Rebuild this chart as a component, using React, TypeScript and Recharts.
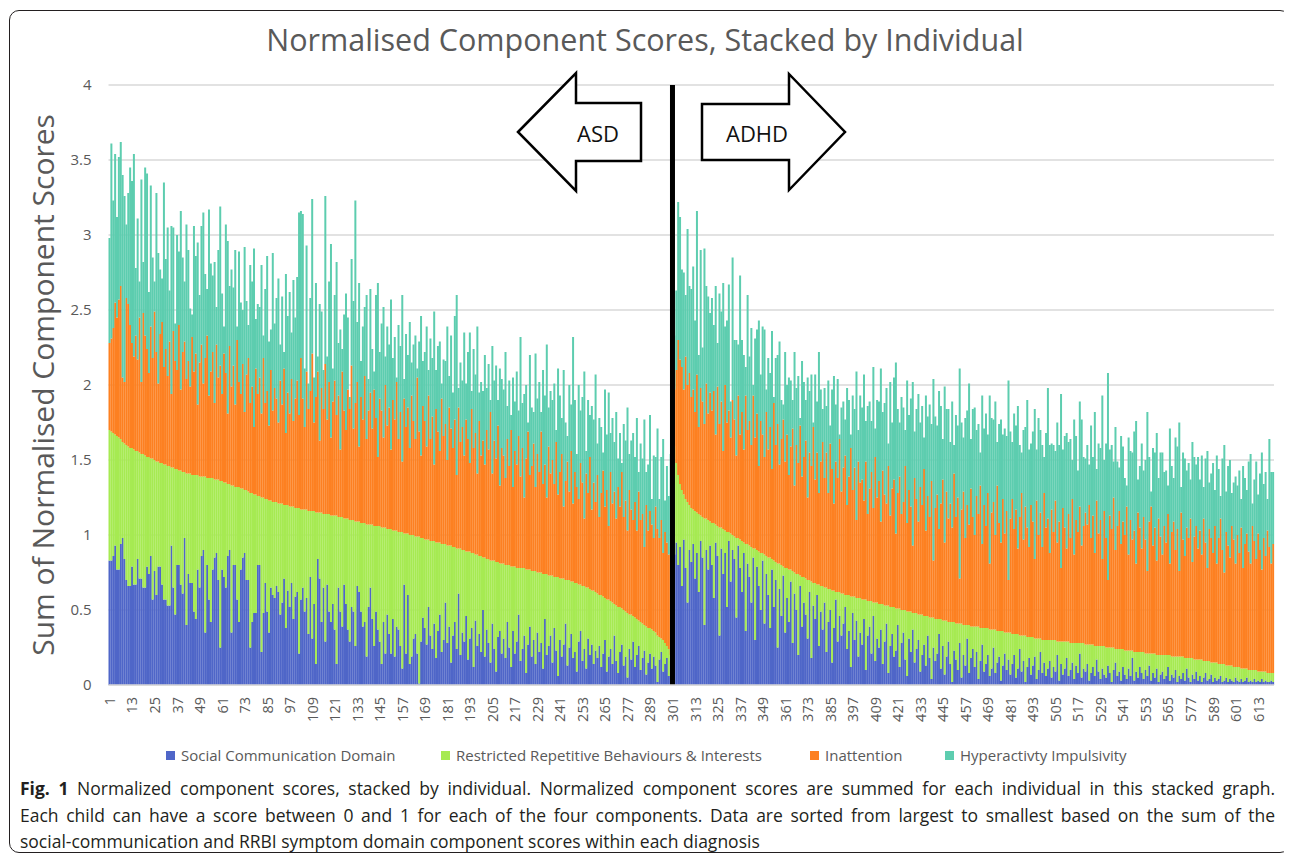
import { BarChart, Bar, XAxis, YAxis, CartesianGrid, Legend, ReferenceLine } from "recharts";

// ASD group (individuals 1-300), sorted by social + RRBI sum
const asdCore = [
  1.70, 1.69, 1.68, 1.67, 1.66, 1.65, 1.64, 1.62, 1.61, 1.60,
  1.59, 1.58, 1.58, 1.57, 1.56, 1.56, 1.55, 1.54, 1.54, 1.53,
  1.52, 1.52, 1.51, 1.51, 1.50, 1.49, 1.49, 1.48, 1.48, 1.47,
  1.47, 1.46, 1.46, 1.45, 1.45, 1.44, 1.44, 1.43, 1.43, 1.42,
  1.42, 1.41, 1.41, 1.41, 1.40, 1.40, 1.40, 1.40, 1.39, 1.39,
  1.39, 1.39, 1.38, 1.38, 1.38, 1.38, 1.37, 1.37, 1.37, 1.36,
  1.36, 1.35, 1.35, 1.34, 1.34, 1.33, 1.33, 1.32, 1.32, 1.32,
  1.31, 1.31, 1.30, 1.30, 1.29, 1.28, 1.28, 1.27, 1.27, 1.26,
  1.26, 1.25, 1.25, 1.24, 1.24, 1.23, 1.23, 1.22, 1.22, 1.22,
  1.21, 1.21, 1.21, 1.20, 1.20, 1.20, 1.19, 1.19, 1.19, 1.18,
  1.18, 1.18, 1.17, 1.17, 1.17, 1.17, 1.16, 1.16, 1.16, 1.16,
  1.15, 1.15, 1.15, 1.15, 1.14, 1.14, 1.14, 1.14, 1.13, 1.13,
  1.13, 1.13, 1.12, 1.12, 1.12, 1.11, 1.11, 1.11, 1.10, 1.10,
  1.10, 1.09, 1.09, 1.09, 1.08, 1.08, 1.08, 1.07, 1.07, 1.07,
  1.07, 1.06, 1.06, 1.06, 1.06, 1.05, 1.05, 1.05, 1.04, 1.04,
  1.04, 1.03, 1.03, 1.03, 1.02, 1.02, 1.02, 1.01, 1.01, 1.01,
  1.00, 1.00, 1.00, .99, .99, .99, .98, .98, .97, .97,
  .97, .96, .96, .96, .95, .95, .95, .94, .94, .94,
  .93, .93, .93, .92, .92, .91, .91, .91, .90, .90,
  .89, .89, .89, .88, .88, .87, .87, .86, .86, .85,
  .85, .84, .84, .83, .83, .83, .82, .82, .81, .81,
  .81, .80, .80, .80, .79, .79, .79, .78, .78, .78,
  .78, .78, .77, .77, .77, .76, .76, .76, .75, .75,
  .75, .74, .74, .74, .73, .73, .73, .72, .72, .72,
  .71, .71, .71, .70, .70, .70, .69, .69, .68, .68,
  .67, .67, .66, .66, .65, .65, .64, .63, .63, .62,
  .61, .60, .60, .59, .58, .57, .57, .56, .55, .54,
  .53, .52, .52, .51, .50, .49, .48, .47, .47, .46,
  .45, .44, .43, .42, .41, .40, .39, .38, .38, .37,
  .36, .35, .33, .32, .31, .30, .28, .26, .24, .20,
];

const asdSocial = [
  .83, .83, .86, .93, .77, .77, .94, .98, .84, .70,
  .66, .66, .79, .67, .67, .84, .71, .71, .65, .65,
  .79, .74, .86, .57, .76, .60, .79, .79, .67, .57,
  .57, .53, .53, .93, .65, .47, .80, .80, .67, .61,
  .98, .40, .74, .68, .68, .49, .44, .77, .65, .86,
  .90, .35, .80, .57, .42, .77, .85, .88, .70, .25,
  .77, .72, .65, .86, .90, .35, .80, .80, .57, .42,
  .77, .85, .88, .70, .70, .25, .42, .48, .48, .80,
  .80, .22, .48, .68, .49, .35, .65, .60, .58, .66,
  .62, .47, .55, .71, .38, .63, .52, .68, .44, .59,
  .62, .21, .57, .65, .49, .58, .34, .72, .31, .54,
  .14, .84, .71, .42, .65, .29, .67, .49, .42, .54,
  .37, .14, .65, .49, .39, .67, .54, .37, .29, .52,
  .49, .26, .66, .62, .49, .39, .42, .19, .52, .65,
  .44, .26, .49, .37, .29, .14, .42, .21, .47, .34,
  .21, .44, .19, .39, .37, .26, .11, .67, .21, .60,
  .14, .19, .31, .34, .21, .01, .29, .45, .38, .27,
  .52, .33, .24, .41, .18, .36, .47, .22, .30, .55,
  .28, .39, .15, .33, .42, .24, .61, .20, .35, .29,
  .46, .17, .31, .38, .12, .43, .26, .34, .22, .50,
  .19, .37, .28, .15, .41, .24, .09, .32, .36, .21,
  .31, .18, .42, .25, .12, .36, .21, .29, .47, .16,
  .24, .33, .08, .27, .39, .19, .30, .14, .35, .22,
  .28, .11, .44, .20, .26, .33, .15, .38, .23, .06,
  .30, .19, .27, .41, .13, .25, .34, .18, .22, .09,
  .29, .36, .16, .24, .11, .31, .20, .27, .14, .23,
  .18, .26, .12, .21, .30, .09, .19, .24, .14, .33,
  .16, .08, .22, .27, .13, .19, .05, .24, .17, .29,
  .12, .20, .26, .10, .18, .23, .07, .15, .21, .11,
  .19, .13, .02, .17, .22, .09, .14, .18, .06, .16,
];

const asdInattention = [
  .58, .62, .70, .88, .79, .92, 1.02, .43, .41, .98,
  .95, .82, .70, .62, .77, .61, .90, .48, .94, .80,
  .72, .56, .88, .67, .99, .73, .52, .86, .94, .65,
  .77, .60, .83, .49, .91, .72, .66, .97, .54, .80,
  .87, .63, .75, .58, .92, .69, .81, .47, .76, .88,
  .62, .79, .95, .55, .71, .84, .51, .90, .68, .77,
  .58, .86, .73, .47, .92, .66, .80, .55, .98, .70,
  .63, .83, .52, .77, .89, .60, .71, .45, .84, .68,
  .79, .56, .93, .64, .72, .50, .87, .61, .76, .69,
  .54, .82, .66, .91, .48, .75, .62, .85, .57, .73,
  .85, .62, 1.01, .74, .55, .92, .68, .80, 1.05, .59,
  .77, .94, .48, .83, .70, 1.00, .63, .88, .52, .76,
  .90, .67, .81, .45, .97, .72, .59, .86, .74, 1.03,
  .61, .79, .93, .50, .84, .69, .98, .57, .76, .88,
  .64, .91, .72, .46, .85, .78, .60, .95, .69, .81,
  .53, .87, .74, .99, .62, .80, .47, .90, .71, .84,
  .58, .93, .76, .65, 1.06, .70, .55, .88, .79, .62,
  .96, .68, .83, .51, .89, .74, .61, .97, .72, .80,
  .57, .92, .78, .66, .85, .49, .94, .71, .82, .63,
  .88, .75, .59, .96, .70, .81, .54, .90, .67, .78,
  .62, .86, .73, .99, .58, .80, .69, .91, .52, .77,
  .72, .58, .84, .66, .91, .53, .77, .69, .88, .61,
  .80, .47, .74, .92, .63, .70, .85, .56, .79, .67,
  .94, .60, .73, .51, .86, .68, .77, .62, .90, .55,
  .71, .83, .48, .66, .79, .59, .87, .52, .74, .64,
  .57, .81, .69, .45, .76, .63, .88, .54, .72, .60,
  .79, .52, .68, .84, .61, .73, .49, .86, .66, .75,
  .58, .80, .67, .91, .62, .74, .55, .83, .70, .64,
  .77, .59, .86, .68, .73, .52, .81, .65, .78, .70,
  .62, .84, .71, .66, .79, .58, .74, .69, .63, .72,
];

const asdHyperactivity = [
  .70, 1.30, .85, .99, .67, .95, .96, 1.35, 1.24, .49,
  .74, 1.05, 1.08, 1.35, .45, .94, .24, 1.35, .34, 1.12,
  1.17, .54, .94, .67, .20, 1.06, .87, .43, .29, 1.23,
  .60, .99, .34, 1.12, .69, .25, .90, .49, 1.19, .63,
  .40, 1.03, .74, .52, .15, .97, .65, 1.08, .45, .79,
  1.14, .56, .31, 1.24, .72, .51, .94, .25, .85, 1.06,
  .67, .18, .99, 1.15, .40, .78, .52, 1.03, .09, .87,
  .61, .36, 1.10, .49, .22, .92, .70, 1.19, .33, .60,
  .47, .99, .15, .76, .90, .56, .27, 1.05, .43, .67,
  .96, .24, .72, .11, 1.06, .51, .81, .31, .94, .54,
  .69, 1.35, .98, 1.23, .39, .84, .17, .62, 1.03, .30,
  .76, .10, .91, .51, .26, 1.12, .42, .67, 1.29, .22,
  .57, 1.02, .35, .80, .15, .64, .91, .48, .08, .71,
  .85, 1.35, .40, 1.09, .24, .62, .46, .96, .21, .69,
  .53, .12, .82, 1.16, .31, .58, .87, .19, .66, .42,
  1.00, .28, .55, .03, .76, .44, 1.11, .13, .62, .35,
  .84, .22, .51, .69, .06, .60, .93, .30, .46, .80,
  .17, .67, .39, 1.02, .26, .57, .73, .10, .51, .42,
  .89, .21, .62, .37, .69, 1.20, .13, .53, .31, .82,
  .24, .58, .87, .12, .66, .39, .98, .19, .49, .33,
  .73, .28, .57, .08, .85, .40, .62, .17, .78, .46,
  .44, .84, .22, .57, .10, .73, .33, .62, .17, .93,
  .30, .69, .49, .06, .80, .39, .21, .89, .37, .60,
  .13, .76, .46, 1.02, .26, .55, .40, .67, .08, .84,
  .51, .24, .91, .39, .17, .71, .31, 1.11, .48, .22,
  .76, .35, .57, .98, .15, .62, .28, .69, .42, .85,
  .21, .66, .44, .12, .78, .37, .89, .26, .57, .33,
  .71, .19, .49, .06, .62, .40, .82, .24, .46, .58,
  .30, .75, .13, .51, .37, .85, .22, .44, .64, .17,
  .55, .33, .67, .26, .42, .76, .21, .51, .39, .62,
];

// ADHD group (individuals 302-621)
const adhdCore = [
  1.59, 1.48, 1.40, 1.34, 1.30, 1.27, 1.24, 1.22, 1.20, 1.18,
  1.17, 1.16, 1.15, 1.14, 1.13, 1.12, 1.11, 1.11, 1.10, 1.09,
  1.08, 1.08, 1.07, 1.06, 1.05, 1.05, 1.04, 1.03, 1.02, 1.02,
  1.01, 1.00, .99, .98, .98, .97, .96, .95, .94, .94,
  .93, .92, .91, .91, .90, .89, .88, .88, .87, .86,
  .85, .85, .84, .83, .82, .81, .81, .80, .79, .78,
  .78, .77, .77, .76, .75, .74, .74, .73, .72, .72,
  .71, .70, .70, .69, .68, .68, .67, .67, .66, .66,
  .65, .65, .64, .64, .63, .63, .62, .62, .62, .61,
  .61, .60, .60, .60, .59, .59, .59, .58, .58, .58,
  .57, .57, .57, .56, .56, .56, .55, .55, .55, .54,
  .54, .54, .53, .53, .53, .52, .52, .52, .51, .51,
  .51, .50, .50, .50, .49, .49, .49, .48, .48, .48,
  .47, .47, .47, .46, .46, .46, .45, .45, .45, .44,
  .44, .44, .44, .43, .43, .43, .42, .42, .42, .42,
  .41, .41, .41, .41, .40, .40, .40, .40, .39, .39,
  .39, .39, .39, .38, .38, .38, .38, .38, .37, .37,
  .37, .37, .36, .36, .36, .36, .35, .35, .35, .35,
  .34, .34, .34, .34, .33, .33, .33, .33, .32, .32,
  .32, .32, .31, .31, .31, .31, .30, .30, .30, .30,
  .30, .30, .30, .30, .29, .29, .29, .29, .29, .29,
  .29, .28, .28, .28, .28, .28, .28, .28, .28, .27,
  .27, .27, .27, .27, .26, .26, .26, .26, .26, .26,
  .25, .25, .25, .25, .25, .24, .24, .24, .24, .24,
  .23, .23, .23, .23, .23, .22, .22, .22, .22, .22,
  .22, .21, .21, .21, .21, .21, .21, .20, .20, .20,
  .20, .20, .20, .20, .20, .19, .19, .19, .19, .19,
  .19, .19, .18, .18, .18, .18, .18, .17, .17, .17,
  .17, .17, .16, .16, .16, .16, .15, .15, .15, .15,
  .14, .14, .14, .14, .13, .13, .13, .13, .12, .12,
  .12, .12, .11, .11, .11, .11, .10, .10, .10, .10,
  .10, .09, .09, .09, .09, .09, .08, .08, .08, .08,
];

const adhdSocial = [
  .87, .95, .80, .92, .66, .97, .78, .55, .90, .82,
  .94, .71, .88, .62, .96, .85, .40, .90, .77, .93,
  .80, .58, .95, .86, .33, .91, .74, .88, .52, .96,
  .69, .90, .84, .45, .93, .78, .62, .88, .36, .81,
  .72, .55, .85, .30, .79, .66, .50, .83, .41, .74,
  .60, .38, .77, .52, .70, .25, .64, .46, .73, .35,
  .58, .42, .69, .28, .61, .50, .20, .66, .39, .55,
  .47, .31, .62, .18, .53, .44, .60, .26, .49, .37,
  .55, .22, .42, .50, .15, .38, .57, .29, .46, .33,
  .41, .52, .24, .36, .12, .48, .30, .43, .19, .35,
  .27, .44, .10, .33, .39, .21, .46, .16, .31, .25,
  .37, .14, .29, .41, .08, .26, .34, .19, .23, .40,
  .12, .28, .35, .17, .06, .31, .22, .37, .15, .24,
  .30, .09, .20, .27, .13, .33, .18, .04, .25, .16,
  .21, .34, .11, .26, .07, .19, .29, .14, .02, .23,
  .17, .10, .28, .05, .20, .13, .31, .08, .18, .24,
  .12, .22, .04, .16, .27, .09, .14, .20, .06, .11,
  .25, .08, .15, .19, .03, .13, .21, .10, .17, .07,
  .14, .20, .05, .11, .24, .09, .16, .02, .12, .18,
  .07, .13, .19, .04, .10, .22, .08, .15, .06, .11,
  .16, .05, .12, .09, .20, .03, .14, .07, .11, .18,
  .06, .10, .15, .04, .13, .08, .21, .05, .11, .09,
  .14, .03, .08, .12, .06, .17, .09, .04, .11, .07,
  .05, .13, .08, .02, .10, .15, .06, .09, .03, .12,
  .07, .04, .11, .06, .18, .03, .09, .05, .12, .08,
  .04, .10, .06, .13, .03, .08, .05, .11, .02, .07,
  .09, .04, .06, .12, .03, .07, .05, .10, .02, .06,
  .04, .08, .03, .11, .05, .02, .07, .04, .09, .03,
  .06, .02, .05, .08, .03, .04, .07, .02, .05, .03,
  .04, .06, .02, .03, .05, .02, .04, .03, .02, .05,
  .03, .02, .04, .02, .03, .05, .02, .03, .02, .04,
  .02, .03, .02, .04, .02, .03, .02, .02, .03, .02,
];

const adhdInattention = [
  .38, .62, .90, .83, .82, .70, .95, .78, .88, .74,
  .80, .66, .92, .58, .85, .77, .63, .90, .71, .86,
  .75, .88, .60, .93, .69, .84, .52, .97, .73, .81,
  .64, .90, .78, .55, .95, .70, .86, .62, .99, .76,
  .83, .68, 1.02, .74, .91, .57, .88, .79, .65, .96,
  .72, .87, .60, 1.05, .78, .93, .66, .84, .98, .71,
  .89, .63, .82, .95, .58, .86, .74, 1.00, .67, .80,
  .92, .55, .85, .77, 1.04, .69, .88, .61, .83, .96,
  .73, .90, .64, .97, .81, .58, .87, .76, 1.02, .68,
  .84, .93, .60, .79, .99, .71, .86, .52, .91, .77,
  .80, .66, .92, .58, .75, .86, .63, .97, .70, .82,
  .55, .89, .74, .68, .93, .61, .79, .85, .50, .77,
  .88, .64, .72, .96, .59, .81, .70, .45, .90, .76,
  .62, .85, .73, .98, .57, .80, .67, .91, .38, .74,
  .83, .60, .77, .94, .52, .86, .69, .79, .63, .99,
  .71, .84, .30, .76, .89, .58, .80, .67, .92, .73,
  .61, .87, .75, .95, .56, .82, .68, .90, .44, .78,
  .85, .63, .97, .72, .59, .88, .66, .81, .35, .76,
  .90, .70, .83, .57, .79, .95, .64, .86, .73, .60,
  .88, .77, .53, .92, .69, .84, .62, .98, .75, .81,
  .58, .87, .72, .93, .66, .80, .49, .89, .76, .62,
  .85, .70, .96, .59, .82, .74, .91, .65, .78, .88,
  .80, .93, .71, .86, .62, .97, .75, .84, .58, .90,
  .73, .45, .88, .79, 1.00, .66, .82, .92, .70, .85,
  .77, .96, .64, .87, .74, .81, .59, .93, .83, .69,
  .90, .76, .55, .88, .98, .72, .84, .63, .91, .79,
  .67, .86, .75, .94, .61, .83, .90, .71, .85, .57,
  .96, .78, .68, .87, .80, .93, .64, .82, .89, .74,
  .86, .70, .95, .79, .62, .88, .83, .73, .91, .66,
  .84, .97, .76, .61, .89, .80, .72, .93, .85, .69,
  .88, .76, .94, .67, .83, .90, .79, .71, .96, .86,
  .74, .92, .81, .68, .89, .77, .95, .84, .73, .86,
];

const adhdHyperactivity = [
  .36, .53, .92, .95, .65, .78, .41, 1.04, .58, .72,
  .82, .61, 1.09, .48, .92, .36, 1.17, .65, .78, .53,
  .75, .44, .99, .29, .87, .60, 1.12, .39, .68, .84,
  .24, .95, .53, .77, .34, 1.06, .48, .63, .19, .90,
  .43, .78, .07, .66, .56, .97, .31, .72, .85, .15,
  .61, .36, .92, .04, .58, .46, .82, .26, .10, .73,
  .33, .65, .44, .19, .89, .38, .58, .05, .77, .50,
  .27, .80, .41, .61, .03, .70, .34, .94, .48, .22,
  .60, .31, .75, .12, .53, .85, .38, .66, .03, .56,
  .44, .24, .78, .51, .09, .63, .39, .99, .21, .58,
  .48, .84, .27, .72, .58, .34, .94, .19, .65, .53,
  1.02, .39, .61, .77, .15, .89, .44, .68, 1.14, .56,
  .36, .78, .63, .24, .95, .50, .72, 1.09, .31, .60,
  .85, .43, .66, .21, .90, .53, .75, .38, 1.21, .61,
  .46, .92, .65, .27, 1.04, .55, .73, .41, .84, .19,
  .68, .48, 1.40, .58, .36, .80, .63, .94, .33, .72,
  .85, .44, .60, .22, .99, .51, .75, .39, 1.12, .63,
  .55, .89, .29, .66, .82, .43, .70, .50, 1.33, .58,
  .38, .77, .56, .95, .48, .27, .73, .53, .85, .65,
  .41, .60, 1.00, .34, .78, .55, .68, .24, .63, .87,
  .72, .44, .58, .33, .80, .51, 1.16, .39, .61, .77,
  .48, .66, .26, .90, .56, .41, .70, .84, .46, .36,
  .53, .27, .75, .39, .94, .21, .60, .48, 1.09, .34,
  .63, 1.38, .44, .56, .24, .82, .43, .29, .72, .50,
  .38, .14, .78, .46, .58, .66, .95, .22, .41, .70,
  .31, .53, 1.06, .43, .10, .65, .50, .85, .27, .56,
  .68, .36, .48, .19, .90, .44, .29, .75, .55, .99,
  .17, .58, .65, .38, .50, .26, .80, .53, .41, .61,
  .34, .66, .21, .56, .78, .31, .43, .60, .24, .72,
  .46, .15, .61, .85, .27, .53, .65, .22, .38, .58,
  .33, .55, .19, .68, .44, .29, .60, .73, .15, .41,
  .65, .26, .51, .78, .36, .56, .21, .72, .61, .48,
];

const GAP_ID = 301;
const Y_TICKS = [0, 0.5, 1, 1.5, 2, 2.5, 3, 3.5, 4];

const SERIES = [
  { key: "social", name: "Social Communication Domain", color: "#4f66c8" },
  { key: "rrbi", name: "Restricted Repetitive Behaviours & Interests", color: "#a6ea52" },
  { key: "inattention", name: "Inattention", color: "#fd8021" },
  { key: "hyperactivity", name: "Hyperactivty Impulsivity", color: "#5dcdaf" },
];

const LEGEND_LEFT = [158, 433, 802, 937];

function buildRows() {
  const rows: any[] = [];
  asdCore.forEach((core, i) => {
    rows.push({
      id: i + 1,
      social: asdSocial[i],
      rrbi: Math.round((core - asdSocial[i]) * 100) / 100,
      inattention: asdInattention[i],
      hyperactivity: asdHyperactivity[i],
    });
  });
  rows.push({ id: GAP_ID, social: 0, rrbi: 0, inattention: 0, hyperactivity: 0 });
  adhdCore.forEach((core, i) => {
    rows.push({
      id: GAP_ID + 1 + i,
      social: adhdSocial[i],
      rrbi: Math.round((core - adhdSocial[i]) * 100) / 100,
      inattention: adhdInattention[i],
      hyperactivity: adhdHyperactivity[i],
    });
  });
  return rows;
}

const data = buildRows();

const TEXT_GRAY = "#595959";

function XTick({ x, y, payload }: any) {
  return (
    <text
      x={x}
      y={y}
      transform={`rotate(-90, ${x}, ${y})`}
      textAnchor="end"
      dominantBaseline="central"
      fontSize={14.5}
      fill={TEXT_GRAY}
    >
      {payload.value}
    </text>
  );
}

function LegendItems() {
  return (
    <div style={{ position: "relative", height: 0 }}>
      {SERIES.map((s, i) => (
        <div
          key={s.key}
          style={{
            position: "absolute",
            left: LEGEND_LEFT[i],
            top: 0,
            height: 20,
            display: "flex",
            alignItems: "center",
            whiteSpace: "nowrap",
            fontSize: 15,
            color: TEXT_GRAY,
          }}
        >
          <span style={{ width: 9, height: 9, background: s.color, marginRight: 6, display: "inline-block" }} />
          <span>{s.name}</span>
        </div>
      ))}
    </div>
  );
}

export default function App() {
  return (
    <div style={{ position: "relative", width: 1284, height: 850, fontFamily: "'Open Sans', sans-serif" }}>
      {/* figure frame */}
      <div
        style={{
          position: "absolute",
          left: 1,
          top: 2,
          width: 1281,
          height: 843,
          border: "1.5px solid #231f20",
          borderRadius: 10,
          boxSizing: "border-box",
        }}
      />

      <div style={{ position: "absolute", left: 0, top: 0 }}>
        <BarChart
          width={1284}
          height={790}
          data={data}
          margin={{ top: 77, right: 18, left: 0, bottom: 53 }}
          barCategoryGap={0}
          barGap={0}
        >
          <CartesianGrid vertical={false} stroke="#d9d9d9" strokeWidth={1.5} />
          <XAxis
            dataKey="id"
            interval={11}
            height={60}
            tick={<XTick />}
            tickLine={false}
            tickSize={0}
            tickMargin={12}
            axisLine={{ stroke: "#d9d9d9", strokeWidth: 1.5 }}
          />
          <YAxis
            width={100.5}
            domain={[0, 4]}
            ticks={Y_TICKS}
            axisLine={false}
            tickLine={false}
            tickSize={0}
            tickMargin={17}
            tick={{ fontSize: 15, fill: TEXT_GRAY }}
          />
          {SERIES.map((s) => (
            <Bar
              key={s.key}
              dataKey={s.key}
              name={s.name}
              stackId="a"
              fill={s.color}
              isAnimationActive={false}
            />
          ))}
          <ReferenceLine x={GAP_ID} stroke="#000" strokeWidth={5} />
          <Legend
            content={<LegendItems />}
            wrapperStyle={{ left: 0, top: 737, width: 1284, height: 0 }}
          />
        </BarChart>
      </div>

      {/* title, axis title and group arrows */}
      <svg width={1284} height={790} style={{ position: "absolute", left: 0, top: 0, pointerEvents: "none" }}>
        <text x={637} y={31} textAnchor="middle" dominantBaseline="central" fontSize={30.5} fill={TEXT_GRAY}>
          Normalised Component Scores, Stacked by Individual
        </text>
        <text
          transform="translate(34,377) rotate(-90)"
          textAnchor="middle"
          dominantBaseline="central"
          fontSize={30}
          fill={TEXT_GRAY}
        >
          Sum of Normalised Component Scores
        </text>
        <polygon
          points="510,124 568,65 568,95 633,95 633,153 568,153 568,183"
          fill="#fff"
          stroke="#000"
          strokeWidth={2.5}
        />
        <text x={590} y={125} textAnchor="middle" dominantBaseline="central" fontSize={22} fill="#111">
          ASD
        </text>
        <polygon
          points="694,96 781,96 781,66 837,124 781,182 781,152 694,152"
          fill="#fff"
          stroke="#000"
          strokeWidth={2.5}
        />
        <text x={749} y={125} textAnchor="middle" dominantBaseline="central" fontSize={22} fill="#111">
          ADHD
        </text>
      </svg>

      {/* caption */}
      <div
        style={{
          position: "absolute",
          left: 12,
          top: 767,
          width: 1255,
          fontSize: 17.5,
          lineHeight: "26.5px",
          color: "#231f20",
        }}
      >
        <div style={{ whiteSpace: "nowrap", textAlign: "justify", textAlignLast: "justify" }}>
          <b>Fig. 1</b> Normalized component scores, stacked by individual. Normalized component scores are summed for each
          individual in this stacked graph.
        </div>
        <div style={{ whiteSpace: "nowrap", textAlign: "justify", textAlignLast: "justify" }}>
          Each child can have a score between 0 and 1 for each of the four components. Data are sorted from largest to
          smallest based on the sum of the
        </div>
        <div style={{ whiteSpace: "nowrap" }}>
          social-communication and RRBI symptom domain component scores within each diagnosis
        </div>
      </div>
    </div>
  );
}
